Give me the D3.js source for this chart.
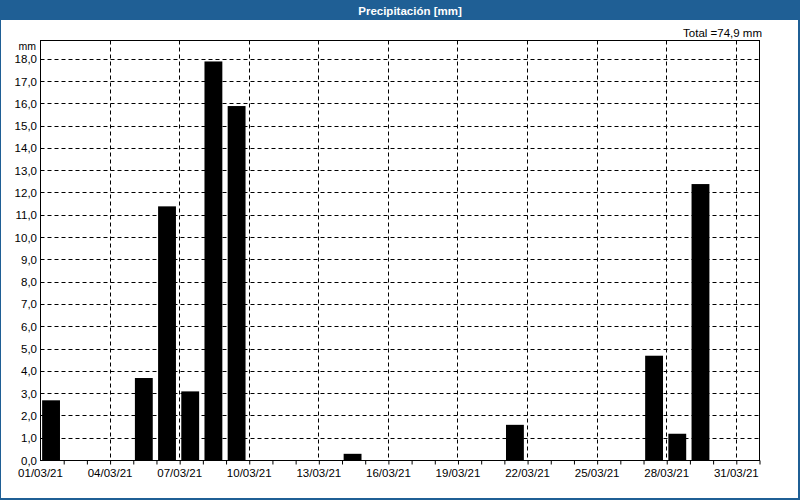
<!DOCTYPE html>
<html><head><meta charset="utf-8">
<script src="https://cdn.jsdelivr.net/npm/d3@7"></script>
<style>body{margin:0;background:#fff}svg{display:block}text{font-family:"Liberation Sans",Arial,sans-serif}</style>
</head><body><svg id="c" width="800" height="500"></svg>
<script>
const title = "Precipitación [mm]";
const totalLabel = "Total =74,9 mm";
const yUnit = "mm";
const barDates = ["2021-03-01","2021-03-05","2021-03-06","2021-03-07","2021-03-08","2021-03-09","2021-03-14","2021-03-21","2021-03-27","2021-03-28","2021-03-29"];
const barValues = [2.7, 3.7, 11.4, 3.1, 17.9, 15.9, 0.3, 1.6, 4.7, 1.2, 12.4];
const xTickLabels = ["01/03/21","04/03/21","07/03/21","10/03/21","13/03/21","16/03/21","19/03/21","22/03/21","25/03/21","28/03/21","31/03/21"];
const yTickValues = [0,1,2,3,4,5,6,7,8,9,10,11,12,13,14,15,16,17,18];

const svg = d3.select("#c");
const blue = "#1f5f95";
const L = 40.5, R = 759.5, T = 40.5, B = 460.5;
const DAY = 86400000;
const parseISO = s => new Date(s + "T00:00:00Z");
const parseLbl = s => { const [d,m,y] = s.split("/"); return new Date(Date.UTC(2000+ +y, +m-1, +d)); };

const x = d3.scaleUtc().domain([Date.UTC(2021,2,1), Date.UTC(2021,3,1)]).range([L, R]);
const y = d3.scaleLinear().domain([0, 18.84]).range([B, T]);
const crisp = v => Math.floor(v) + 0.5;

// frame
svg.append("rect").attr("x",0).attr("y",0).attr("width",800).attr("height",500).attr("fill",blue);
svg.append("rect").attr("x",1).attr("y",20).attr("width",797).attr("height",478).attr("fill","#fff");
svg.append("text").attr("x",410).attr("y",14.5).attr("text-anchor","middle")
  .attr("fill","#fff").attr("font-weight","bold").attr("font-size",11.5).text(title);
svg.append("text").attr("x",762).attr("y",37).attr("text-anchor","end")
  .attr("fill","#000").attr("font-size",11.5).text(totalLabel);

// horizontal grid
svg.append("g").selectAll("line").data(yTickValues.filter(v=>v>0)).join("line")
  .attr("x1",L).attr("x2",R).attr("y1",d=>crisp(y(d))).attr("y2",d=>crisp(y(d)))
  .attr("stroke","#000").attr("stroke-width",1).attr("stroke-dasharray","4,3");
// vertical grid
const xTickDates = xTickLabels.map(parseLbl);
svg.append("g").selectAll("line").data(xTickDates.slice(1)).join("line")
  .attr("x1",d=>crisp(x(d))).attr("x2",d=>crisp(x(d))).attr("y1",T).attr("y2",B)
  .attr("stroke","#000").attr("stroke-width",1).attr("stroke-dasharray","4,3");

// bars
svg.append("g").selectAll("rect").data(barDates.map((d,i)=>({d:parseISO(d),v:barValues[i]}))).join("rect")
  .attr("x",d=>x(new Date(+d.d + 0.07*DAY)))
  .attr("width",d=>x(new Date(+d.d + 0.84*DAY)) - x(new Date(+d.d + 0.07*DAY)))
  .attr("y",d=>y(d.v)).attr("height",d=>B - y(d.v)).attr("fill","#000");

// plot border
svg.append("rect").attr("x",L).attr("y",T).attr("width",R-L).attr("height",B-T)
  .attr("fill","none").attr("stroke","#000").attr("stroke-width",1);

// x axis
const xAxis = d3.axisBottom(x).tickValues(d3.utcDay.range(Date.UTC(2021,2,2), Date.UTC(2021,3,2)))
  .tickSize(4).tickFormat("");
svg.append("g").attr("transform",`translate(0,${B})`).call(xAxis)
  .call(g=>g.select(".domain").remove())
  .call(g=>g.selectAll("line").attr("stroke","#000").attr("transform",function(){return "";}));
svg.append("g").selectAll("text").data(xTickDates).join("text")
  .attr("x",d=>x(d)).attr("y",477).attr("text-anchor","middle").attr("font-size",11.5).attr("fill","#000")
  .text((d,i)=>xTickLabels[i]);

// y labels
svg.append("g").selectAll("text").data(yTickValues).join("text")
  .attr("x",37).attr("y",d=>y(d)).attr("dy","0.35em").attr("text-anchor","end").attr("font-size",11.5).attr("fill","#000")
  .text(d=>d3.format(".1f")(d).replace(".",","));
svg.append("text").attr("x",36).attr("y",50).attr("text-anchor","end").attr("font-size",10.5).attr("fill","#000").text(yUnit);
</script></body></html>
